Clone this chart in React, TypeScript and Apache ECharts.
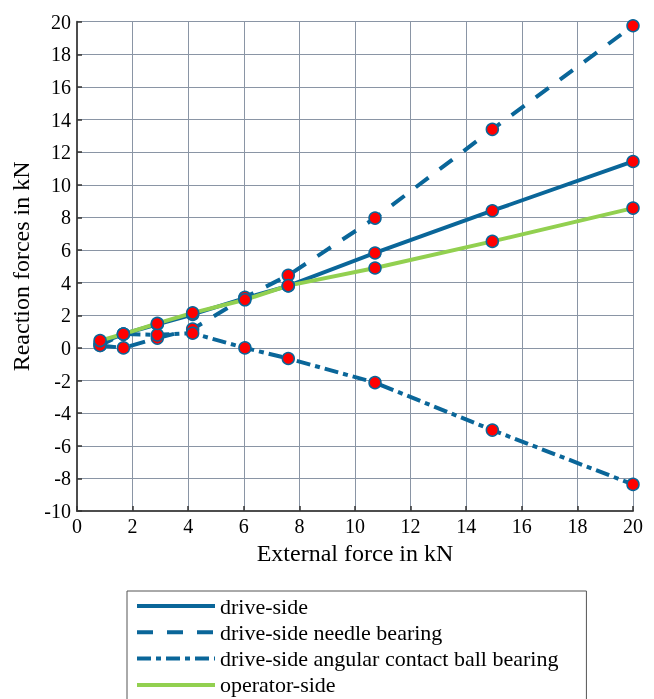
import React, { useEffect, useRef } from "react";
import * as echarts from "echarts";

const externalForce = [0.83, 1.67, 2.89, 4.16, 6.04, 7.6, 10.72, 14.94, 20];
const driveSide = [0.3, 0.85, 1.45, 2.05, 3.05, 3.8, 5.82, 8.41, 11.43];
const needleBearing = [0.15, 0.0, 0.6, 1.15, 3.1, 4.45, 7.96, 13.4, 19.75];
const angularBearing = [0.15, 0.85, 0.8, 0.9, 0.0, -0.65, -2.13, -5.04, -8.37];
const operatorSide = [0.45, 0.85, 1.5, 2.15, 2.95, 3.82, 4.9, 6.53, 8.57];

const seriesNames = [
  "drive-side",
  "drive-side needle bearing",
  "drive-side angular contact ball bearing",
  "operator-side",
];

const BLUE = "#0a6699";
const GREEN = "#92d050";

export default function App() {
  const ref = useRef<HTMLDivElement>(null);
  useEffect(() => {
    if (!ref.current) return;
    const chart = echarts.init(ref.current, undefined, { renderer: "svg" });
    const pairs = (ys: number[]) => externalForce.map((x, i) => [x, ys[i]]);
    const lines = [
      { name: seriesNames[0], data: driveSide, color: BLUE, type: "solid" as any },
      { name: seriesNames[1], data: needleBearing, color: BLUE, type: [16, 14] },
      { name: seriesNames[2], data: angularBearing, color: BLUE, type: [14, 5, 5, 5] },
      { name: seriesNames[3], data: operatorSide, color: GREEN, type: "solid" as any },
    ];
    const series: any[] = lines.map((l) => ({
      name: l.name,
      type: "line",
      data: pairs(l.data),
      symbol: "circle",
      symbolSize: 12,
      showAllSymbol: true,
      itemStyle: { color: "#ff0000", borderColor: BLUE, borderWidth: 1.5 },
      lineStyle: { color: l.color, width: 4, type: l.type },
    }));
    chart.setOption({
      animation: false,
      grid: { left: 77, right: 21, top: 21.7, bottom: 188 },
      xAxis: {
        type: "value",
        min: 0,
        max: 20,
        interval: 2,
        name: "External force in kN",
        nameLocation: "middle",
        nameGap: 26,
        nameTextStyle: { fontFamily: "serif", fontSize: 24, color: "#000" },
        axisLine: { show: true, onZero: false, lineStyle: { color: "#4d4d4d", width: 2 } },
        axisTick: { show: true, inside: true, length: 5, lineStyle: { color: "#333", width: 1.5 } },
        axisLabel: { fontFamily: "serif", fontSize: 20, color: "#000", margin: 5 },
        splitLine: { show: true, lineStyle: { color: "#8a95a5", width: 1 } },
      },
      yAxis: {
        type: "value",
        min: -10,
        max: 20,
        interval: 2,
        name: "Reaction forces in kN",
        nameLocation: "middle",
        nameGap: 37,
        nameTextStyle: { fontFamily: "serif", fontSize: 24, color: "#000" },
        axisLine: { show: true, onZero: false, lineStyle: { color: "#4d4d4d", width: 2 } },
        axisTick: { show: true, inside: true, length: 5, lineStyle: { color: "#333", width: 1.5 } },
        axisLabel: { fontFamily: "serif", fontSize: 20, color: "#000", margin: 6 },
        splitLine: { show: true, lineStyle: { color: "#8a95a5", width: 1 } },
      },
      legend: {
        data: seriesNames,
        orient: "vertical",
        left: 127,
        top: 591,
        height: 140,
        padding: [4, 28, 5, 8],
        itemWidth: 78,
        itemHeight: 20,
        itemGap: 4.3,
        borderColor: "#555",
        borderWidth: 1,
        backgroundColor: "#fff",
        itemStyle: { opacity: 0 },
        lineStyle: { width: 4 },
        textStyle: { fontFamily: "serif", fontSize: 22, color: "#000" },
      },
      series,
    });
    return () => chart.dispose();
  }, []);
  return <div ref={ref} style={{ position: "fixed", left: 0, top: 0, width: 654, height: 699 }} />;
}
